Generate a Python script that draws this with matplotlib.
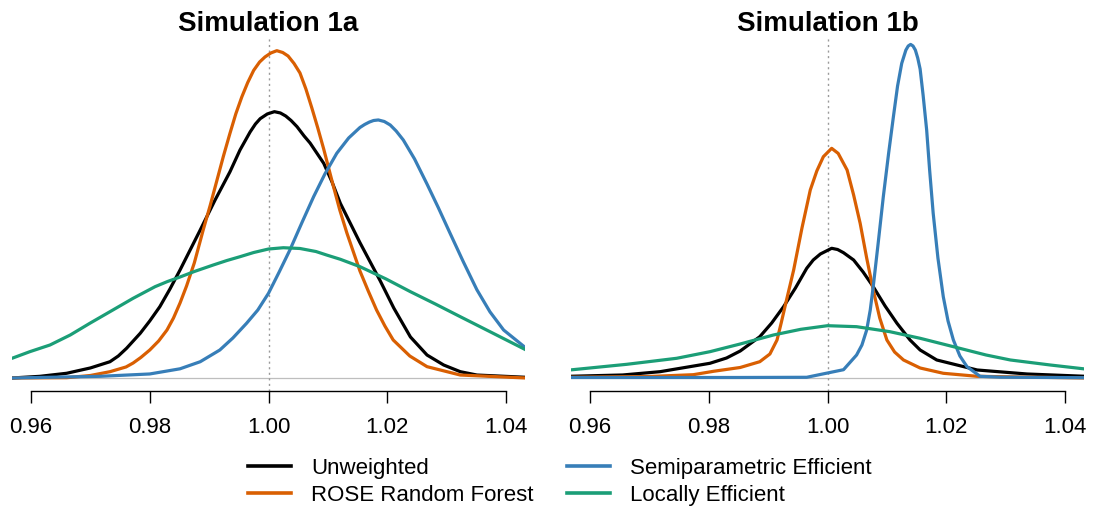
import matplotlib
matplotlib.use("Agg")
import matplotlib.pyplot as plt
from matplotlib.lines import Line2D

plt.rcParams['font.family'] = ['Liberation Sans', 'DejaVu Sans']

# ---------------- data (density estimates) ----------------
titles = ["Simulation 1a", "Simulation 1b"]
labels = ["Unweighted", "ROSE Random Forest", "Semiparametric Efficient", "Locally Efficient"]
colors = ["#000000", "#D95F02", "#377EB8", "#1B9E77"]
xticks = [0.96, 0.98, 1.00, 1.02, 1.04]
xtick_labels = ["0.96", "0.98", "1.00", "1.02", "1.04"]
truth = 1.00

# ---- Simulation 1a ----
a_unw_x = [0.9568, 0.9615, 0.9660, 0.9700, 0.9733, 0.9747, 0.9761, 0.9784, 0.9800, 0.9817,
           0.9834, 0.9851, 0.9868, 0.9885, 0.9910, 0.9935, 0.9952, 0.9969, 0.9978, 0.9986,
           0.9998, 1.0010, 1.0020, 1.0029, 1.0038, 1.0048, 1.0060, 1.0070, 1.0093, 1.0107,
           1.0121, 1.0154, 1.0188, 1.0211, 1.0239, 1.0267, 1.0295, 1.0323, 1.0351, 1.0434]
a_unw_y = [0, 0.22, 0.62, 1.32, 2.14, 2.89, 3.91, 5.88, 7.50, 9.38,
           11.70, 14.20, 16.83, 19.46, 23.40, 27.10, 29.98, 32.35, 33.40, 34.10,
           34.72, 35.02, 34.85, 34.45, 33.86, 33.05, 31.82, 30.90, 28.23, 25.77,
           22.97, 17.80, 12.80, 9.20, 5.40, 3.02, 1.71, 0.83, 0.39, 0.09]

a_rose_x = [0.9568, 0.9660, 0.9700, 0.9733, 0.9760, 0.9772, 0.9785, 0.9800, 0.9815, 0.9829,
            0.9840, 0.9851, 0.9862, 0.9875, 0.9890, 0.9902, 0.9913, 0.9924, 0.9935, 0.9945,
            0.9955, 0.9965, 0.9975, 0.9985, 0.9994, 1.0004, 1.0014, 1.0024, 1.0033, 1.0043,
            1.0053, 1.0063, 1.0073, 1.0083, 1.0093, 1.0109, 1.0120, 1.0132, 1.0143, 1.0154,
            1.0168, 1.0182, 1.0196, 1.0210, 1.0238, 1.0267, 1.0323, 1.0434]
a_rose_y = [0, 0.04, 0.33, 0.83, 1.45, 1.97, 2.70, 3.68, 4.87, 6.31,
            7.89, 9.86, 12.10, 15.12, 19.46, 22.75, 25.95, 29.15, 32.15, 34.75,
            36.95, 38.85, 40.45, 41.55, 42.21, 42.74, 43.04, 42.80, 42.34, 41.36,
            40.11, 38.00, 35.51, 32.88, 30.10, 25.30, 22.10, 19.07, 16.57, 14.07,
            11.44, 8.94, 6.84, 5.00, 2.89, 1.49, 0.39, 0]

a_semi_x = [0.9568, 0.9716, 0.9800, 0.9851, 0.9885, 0.9918, 0.9940, 0.9963, 0.9982, 1.0000,
            1.0018, 1.0036, 1.0056, 1.0076, 1.0095, 1.0115, 1.0135, 1.0154, 1.0162, 1.0170,
            1.0177, 1.0185, 1.0195, 1.0205, 1.0215, 1.0227, 1.0246, 1.0267, 1.0286, 1.0306,
            1.0328, 1.0351, 1.0373, 1.0396, 1.0434]
a_semi_y = [0, 0.22, 0.53, 1.21, 2.14, 3.68, 5.26, 7.19, 8.94, 11.14,
            13.94, 16.83, 20.38, 23.84, 26.83, 29.55, 31.56, 32.94, 33.34, 33.66,
            33.86, 33.93, 33.73, 33.27, 32.48, 31.30, 28.80, 25.50, 22.40, 19.00,
            15.30, 11.60, 8.70, 6.31, 3.91]

a_loc_x = [0.9568, 0.9598, 0.9632, 0.9666, 0.9699, 0.9733, 0.9772, 0.9809, 0.9830, 0.9851,
           0.9875, 0.9907, 0.9930, 0.9952, 0.9975, 1.0000, 1.0025, 1.0053, 1.0080, 1.0098,
           1.0121, 1.0154, 1.0198, 1.0239, 1.0281, 1.0323, 1.0373, 1.0434]
a_loc_y = [2.59, 3.46, 4.34, 5.65, 7.19, 8.72, 10.48, 12.01, 12.69, 13.28,
           14.00, 14.86, 15.45, 15.95, 16.50, 16.96, 17.13, 17.03, 16.63, 16.17,
           15.61, 14.64, 13.02, 11.35, 9.73, 8.06, 6.09, 3.68]

# ---- Simulation 1b ----
b_unw_x = [0.9566, 0.9655, 0.9718, 0.9802, 0.9830, 0.9853, 0.9886, 0.9906, 0.9926, 0.9946,
           0.9965, 0.9976, 0.9988, 1.0007, 1.0017, 1.0027, 1.0044, 1.0060, 1.0077, 1.0097,
           1.0117, 1.0139, 1.0156, 1.0184, 1.0252, 1.0336, 1.0434]
b_unw_y = [0.87, 1.54, 3.23, 7.53, 10.24, 13.82, 21.15, 28.16, 36.51, 46.08,
           56.17, 60.42, 63.49, 66.41, 65.79, 64.15, 60.42, 54.27, 46.75, 36.86,
           28.01, 19.46, 14.34, 9.22, 4.10, 2.05, 0.87]

b_rose_x = [0.9566, 0.9700, 0.9774, 0.9808, 0.9853, 0.9886, 0.9903, 0.9915, 0.9922, 0.9931,
            0.9943, 0.9957, 0.9971, 0.9982, 0.9993, 1.0007, 1.0018, 1.0033, 1.0044, 1.0055,
            1.0066, 1.0077, 1.0088, 1.0100, 1.0113, 1.0128, 1.0156, 1.0195, 1.0252, 1.0434]
b_rose_y = [0.36, 0.77, 1.69, 3.43, 5.38, 8.35, 12.29, 19.46, 28.16, 39.94,
            55.3, 76.8, 96.26, 106.0, 113.3, 117.6, 115.0, 106.5, 93.7, 79.21,
            61.4, 45.06, 30.7, 19.46, 13.3, 9.22, 5.12, 2.41, 0.87, 0]

b_semi_x = [0.9566, 0.9853, 0.9965, 1.0000, 1.0027, 1.0049, 1.0058, 1.0066, 1.0072, 1.0077,
            1.0085, 1.0094, 1.0103, 1.0111, 1.0118, 1.0125, 1.0132, 1.0136, 1.0140, 1.0144,
            1.0148, 1.0152, 1.0156, 1.0161, 1.0167, 1.0172, 1.0178, 1.0186, 1.0195, 1.0203,
            1.0212, 1.0223, 1.0235, 1.0257, 1.0291, 1.0434]
b_semi_y = [0.26, 0.26, 0.36, 2.56, 4.25, 11.78, 16.9, 24.58, 34.8, 46.75,
            68.1, 92.83, 115.2, 133.8, 149.5, 161.1, 167.9, 170.0, 170.8, 170.0,
            167.9, 163.8, 158.2, 144.9, 127.0, 106.5, 84.33, 61.4, 41.63, 29.2,
            19.46, 11.26, 5.79, 0.87, 0.41, 0.15]

b_loc_x = [0.9566, 0.9662, 0.9746, 0.9802, 0.9853, 0.9909, 0.9955, 1.0000, 1.0049,
           1.0105, 1.0156, 1.0212, 1.0267, 1.0308, 1.0375, 1.0434]
b_loc_y = [4.1, 7.01, 10.09, 13.47, 17.41, 22.02, 24.93, 26.78, 26.27,
           23.71, 20.33, 16.03, 11.78, 9.22, 6.66, 4.61]

panels = [
    [(a_unw_x, a_unw_y), (a_rose_x, a_rose_y), (a_semi_x, a_semi_y), (a_loc_x, a_loc_y)],
    [(b_unw_x, b_unw_y), (b_rose_x, b_rose_y), (b_semi_x, b_semi_y), (b_loc_x, b_loc_y)],
]
ylims = [(-1.71, 44.84), (-6.66, 174.6)]
xlim = (0.9568, 1.0432)

# ---------------- figure ----------------
W, H = 1093, 507
fig = plt.figure(figsize=(W / 100, H / 100), dpi=100)

ax_left_px = [12, 571]
ax_w_px = 513
ax_top_px, ax_bot_px = 37, 391

for i, (curves, title) in enumerate(zip(panels, titles)):
    ax = fig.add_axes([ax_left_px[i] / W, 1 - ax_bot_px / H, ax_w_px / W, (ax_bot_px - ax_top_px) / H])
    ax.set_xlim(*xlim)
    ax.set_ylim(*ylims[i])
    ax.axhline(0, color="#BEBEBE", lw=0.9, zorder=1)
    ax.axvline(truth, color="#9A9A9A", lw=1.0, ls=(0, (1.5, 2.5)), zorder=1)
    for (xs, ys), c in zip(curves, colors):
        ax.plot(xs, ys, color=c, lw=2.3, solid_joinstyle="round", solid_capstyle="round", zorder=3)
    for s in ["top", "left", "right"]:
        ax.spines[s].set_visible(False)
    ax.spines["bottom"].set_bounds(xticks[0], xticks[-1])
    ax.spines["bottom"].set_linewidth(1.0)
    ax.set_xticks(xticks)
    ax.set_xticklabels(xtick_labels)
    ax.set_yticks([])
    ax.tick_params(axis="x", direction="out", length=8.6, width=1.0, pad=10, labelsize=16)
    ax.set_title(title, fontsize=20, fontweight="bold", pad=3)

handles = [Line2D([0], [0], color=c, lw=2.6) for c in colors]
fig.legend(handles, labels, ncol=2, loc="upper left",
           bbox_to_anchor=(248 / W, 1 - 458 / H), frameon=False, fontsize=16,
           handlelength=1.94, handletextpad=0.9, columnspacing=1.5,
           labelspacing=0.28, borderpad=0, borderaxespad=0)

fig.savefig("out.png", dpi=100)
